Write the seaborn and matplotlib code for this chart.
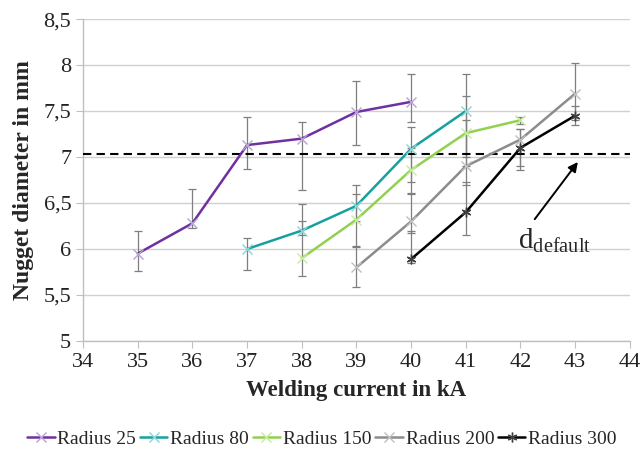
import numpy as np
import pandas as pd
import seaborn as sns
from matplotlib import pyplot as plt
from matplotlib.ticker import FuncFormatter

# welding current (kA) and nugget diameter (mm) per electrode radius
r25_x = [35, 36, 37, 38, 39, 40]
r25_y = [5.95, 6.28, 7.13, 7.2, 7.49, 7.6]
r25_lo = [5.76, 6.23, 6.87, 6.64, 7.13, 7.38]
r25_hi = [6.2, 6.65, 7.44, 7.38, 7.83, 7.9]

r80_x = [37, 38, 39, 40, 41]
r80_y = [6.0, 6.2, 6.47, 7.09, 7.5]
r80_lo = [5.77, 6.15, 6.3, 6.73, 7.0]
r80_hi = [6.12, 6.49, 6.7, 7.33, 7.9]

r150_x = [38, 39, 40, 41, 42]
r150_y = [5.9, 6.32, 6.86, 7.26, 7.4]
r150_lo = [5.71, 6.03, 6.61, 6.9, 7.36]
r150_hi = [6.3, 6.6, 7.1, 7.66, 7.44]

r200_x = [39, 40, 41, 42, 43]
r200_y = [5.8, 6.3, 6.9, 7.19, 7.69]
r200_lo = [5.59, 6.17, 6.7, 6.86, 7.4]
r200_hi = [6.02, 6.6, 7.4, 7.3, 8.02]

r300_x = [40, 41, 42, 43]
r300_y = [5.89, 6.4, 7.1, 7.45]
r300_lo = [5.85, 6.15, 6.9, 7.35]
r300_hi = [6.2, 6.73, 7.3, 7.55]

d_default = 7.03
labels = ['Radius 25', 'Radius 80', 'Radius 150', 'Radius 200', 'Radius 300']

series = [(r25_x, r25_y, r25_lo, r25_hi), (r80_x, r80_y, r80_lo, r80_hi),
          (r150_x, r150_y, r150_lo, r150_hi), (r200_x, r200_y, r200_lo, r200_hi),
          (r300_x, r300_y, r300_lo, r300_hi)]

line_cols = ['#7030A0', '#17A0A0', '#92D050', '#8C8C8C', '#000000']
mark_cols = ['#B9A2D6', '#8CD6D6', '#C4EC9C', '#BFBFBF', '#404040']
markers = ['x', 'x', 'x', 'x', (6, 2, 0)]

frames = []
for lab, (x, y, lo, hi) in zip(labels, series):
    frames.append(pd.DataFrame({'current': x, 'diameter': y, 'series': lab}))
df = pd.concat(frames, ignore_index=True)

sns.set_style('white')
plt.rcParams['font.family'] = ['Liberation Serif', 'DejaVu Serif']
plt.rcParams['mathtext.fontset'] = 'custom'
plt.rcParams['mathtext.rm'] = 'Liberation Serif'

fig = plt.figure(figsize=(6.44, 4.54), dpi=100)
ax = fig.add_axes([0.129, 0.249, 0.849, 0.709])

# error bars first so the lines sit on top
for (x, y, lo, hi) in series:
    y = np.array(y)
    err = [y - np.array(lo), np.array(hi) - y]
    ax.errorbar(x, y, yerr=err, fmt='none', ecolor='#7F7F7F', elinewidth=0.9,
                capsize=3, capthick=0.9, zorder=2)

ax.axhline(d_default, color='black', ls=(0, (4, 2.5)), lw=1.5, zorder=3)

sns.lineplot(data=df, x='current', y='diameter', hue='series', style='series',
             hue_order=labels, style_order=labels, palette=line_cols,
             markers=dict(zip(labels, markers)), dashes=False, lw=1.8,
             markersize=7, legend=False, ax=ax, zorder=4)

handles = []
for ln, mc in zip(ax.lines[-5:], mark_cols):
    ln.set_markeredgecolor(mc)
    ln.set_markeredgewidth(1.0)
    handles.append(ln)

ax.set_xlim(34, 44)
ax.set_ylim(5, 8.5)
ax.set_xticks(range(34, 45))
ax.set_yticks(np.arange(5, 8.51, 0.5))
ax.yaxis.set_major_formatter(FuncFormatter(lambda v, p: ('%g' % v).replace('.', ',')))
ax.grid(axis='y', color='#D0D0D0', lw=1.0)
ax.set_axisbelow(True)
for s in ['top', 'right']:
    ax.spines[s].set_visible(False)
for s in ['left', 'bottom']:
    ax.spines[s].set_color('#BFBFBF')
    ax.spines[s].set_linewidth(1.0)
ax.tick_params(axis='both', labelsize=16, length=5, color='#BFBFBF', direction='out',
               left=True, bottom=True, labelcolor='#222222')

ax.set_xlabel('Welding current in kA', fontsize=16.5, fontweight='bold', labelpad=6)
ax.set_ylabel('Nugget diameter in mm', fontsize=17, fontweight='bold', labelpad=7)

ax.annotate('', xy=(43.08, 6.97), xytext=(42.23, 6.3),
            arrowprops=dict(arrowstyle='-|>', color='black', lw=1.4, mutation_scale=14))
ax.text(41.95, 6.01, r'$\mathrm{d}_{\mathrm{default}}$', fontsize=21, ha='left',
        va='baseline')

fig.legend(handles=handles, labels=labels, loc='center', bbox_to_anchor=(0.5, 0.032),
           ncol=5, frameon=False, fontsize=14, handlelength=1.4, handletextpad=0.15,
           columnspacing=0.2, borderaxespad=0)

fig.savefig('out.png', dpi=100)
